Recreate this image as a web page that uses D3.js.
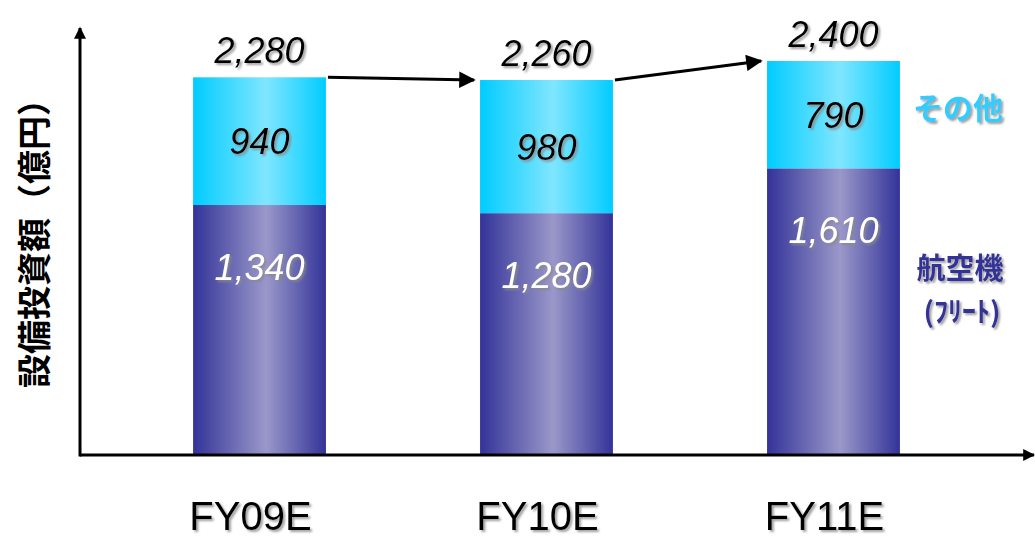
<!DOCTYPE html>
<html>
<head>
<meta charset="utf-8">
<script src="https://cdn.jsdelivr.net/npm/d3@7"></script>
<style>
  body { margin: 0; background: #fff; }
  svg { display: block; }
</style>
</head>
<body>
<div class="canvas"></div>
<script>
// data
const categories = ['FY09E', 'FY10E', 'FY11E'];
const fleet = [1340, 1280, 1610];   // 航空機(フリート)
const other = [940, 980, 790];      // その他
const totals = [2280, 2260, 2400];

const dims = { width: 1035, height: 538 };
const axisX = 80, baseY = 455;
// the original chart's axis floor sits below zero
const yFloor = -500;

const svg = d3.select('.canvas')
    .append('svg')
    .attr('width', dims.width)
    .attr('height', dims.height);

const defs = svg.append('defs');

// horizontal gradients, dark edges / light middle
const grad = (id, edge, mid) => {
    const g = defs.append('linearGradient').attr('id', id)
        .attr('x1', '0%').attr('x2', '100%').attr('y1', '0%').attr('y2', '0%');
    g.append('stop').attr('offset', '0%').attr('stop-color', edge);
    g.append('stop').attr('offset', '55%').attr('stop-color', mid);
    g.append('stop').attr('offset', '100%').attr('stop-color', edge);
};
grad('gFleet', '#333399', '#9a98c9');
grad('gOther', '#00ccff', '#80e6ff');

const shadow = defs.append('filter').attr('id', 'shadow')
    .attr('x', '-10%').attr('y', '-10%').attr('width', '130%').attr('height', '140%');
shadow.append('feDropShadow')
    .attr('dx', 2).attr('dy', 2).attr('stdDeviation', 0.8)
    .attr('flood-color', '#888').attr('flood-opacity', 0.8);

defs.append('marker').attr('id', 'arrow')
    .attr('viewBox', '0 0 10 10').attr('refX', 9).attr('refY', 5)
    .attr('markerWidth', 7).attr('markerHeight', 5.5).attr('orient', 'auto')
    .attr('markerUnits', 'strokeWidth')
    .append('path').attr('d', 'M0,0 L10,5 L0,10 Z').attr('fill', '#000');

defs.append('marker').attr('id', 'axisArrow')
    .attr('viewBox', '0 0 10 10').attr('refX', 9).attr('refY', 5)
    .attr('markerWidth', 5).attr('markerHeight', 4).attr('orient', 'auto')
    .attr('markerUnits', 'strokeWidth')
    .append('path').attr('d', 'M0,0 L10,5 L0,10 Z').attr('fill', '#000');

const x = d3.scaleBand()
    .domain(categories)
    .range([axisX, 1013])
    .paddingInner(0.537)
    .paddingOuter(0.394);

const y = d3.scaleLinear()
    .domain([yFloor, 2400])
    .range([baseY, 61]);

const graph = svg.append('g');

// bars
graph.selectAll('rect.fleet')
    .data(categories)
    .enter().append('rect')
    .attr('class', 'fleet')
    .attr('x', d => x(d))
    .attr('width', x.bandwidth())
    .attr('y', (d, i) => y(fleet[i]))
    .attr('height', (d, i) => y(yFloor) - y(fleet[i]))
    .attr('fill', 'url(#gFleet)');

graph.selectAll('rect.other')
    .data(categories)
    .enter().append('rect')
    .attr('class', 'other')
    .attr('x', d => x(d))
    .attr('width', x.bandwidth())
    .attr('y', (d, i) => y(fleet[i] + other[i]))
    .attr('height', (d, i) => y(fleet[i]) - y(fleet[i] + other[i]))
    .attr('fill', 'url(#gOther)');

// axes with arrows
svg.append('line')
    .attr('x1', axisX).attr('y1', baseY).attr('x2', 1034).attr('y2', baseY)
    .attr('stroke', '#000').attr('stroke-width', 3)
    .attr('marker-end', 'url(#axisArrow)');
svg.append('line')
    .attr('x1', axisX).attr('y1', baseY + 1.5).attr('x2', axisX).attr('y2', 28)
    .attr('stroke', '#000').attr('stroke-width', 3)
    .attr('marker-end', 'url(#axisArrow)');

// arrows between totals
const cx = d => x(d) + x.bandwidth() / 2;
for (let i = 0; i < categories.length - 1; i++) {
    svg.append('line')
        .attr('x1', x(categories[i]) + x.bandwidth() + 2)
        .attr('y1', y(totals[i]))
        .attr('x2', x(categories[i + 1]) - 6)
        .attr('y2', y(totals[i + 1]))
        .attr('stroke', '#000').attr('stroke-width', 3)
        .attr('marker-end', 'url(#arrow)');
}

const fmt = d3.format(',');
const numFont = '"Liberation Sans", Arial, sans-serif';

// totals
svg.selectAll('text.total')
    .data(categories)
    .enter().append('text')
    .attr('x', d => cx(d))
    .attr('y', (d, i) => y(totals[i]) - 14)
    .attr('text-anchor', 'middle')
    .attr('font-family', numFont).attr('font-style', 'italic')
    .attr('font-size', 36).attr('fill', '#000')
    .attr('filter', 'url(#shadow)')
    .text((d, i) => fmt(totals[i]));

// other values
svg.selectAll('text.other')
    .data(categories)
    .enter().append('text')
    .attr('x', d => cx(d))
    .attr('y', (d, i) => (y(fleet[i] + other[i]) + y(fleet[i])) / 2 + 13)
    .attr('text-anchor', 'middle')
    .attr('font-family', numFont).attr('font-style', 'italic')
    .attr('font-size', 36).attr('fill', '#000')
    .attr('filter', 'url(#shadow)')
    .text((d, i) => fmt(other[i]));

// fleet values
svg.selectAll('text.fleet')
    .data(categories)
    .enter().append('text')
    .attr('x', d => cx(d))
    .attr('y', (d, i) => y(fleet[i]) + 75)
    .attr('text-anchor', 'middle')
    .attr('font-family', numFont).attr('font-style', 'italic')
    .attr('font-size', 36).attr('fill', '#fff')
    .attr('filter', 'url(#shadow)')
    .text((d, i) => fmt(fleet[i]));

// category labels
svg.selectAll('text.cat')
    .data(categories)
    .enter().append('text')
    .attr('x', d => cx(d) - 9)
    .attr('y', 530)
    .attr('text-anchor', 'middle')
    .attr('font-family', numFont)
    .attr('font-size', 40).attr('fill', '#000')
    .attr('filter', 'url(#shadow)')
    .text(d => d);

// y title
svg.append('text')
    .attr('transform', 'translate(47, 235) rotate(-90)')
    .attr('text-anchor', 'middle')
    .attr('font-family', '"Noto Sans CJK JP", sans-serif')
    .attr('font-weight', 'bold')
    .attr('font-size', 34).attr('fill', '#000')
    .text('設備投資額（億円）');

// legend
const cjk = '"Noto Sans CJK JP", sans-serif';
svg.append('text')
    .attr('x', 958).attr('y', 119)
    .attr('text-anchor', 'middle')
    .attr('font-family', cjk).attr('font-weight', 'bold')
    .attr('font-size', 30).attr('fill', '#33ccff')
    .attr('filter', 'url(#shadow)')
    .text('その他');
svg.append('text')
    .attr('x', 960).attr('y', 279)
    .attr('text-anchor', 'middle')
    .attr('font-family', cjk).attr('font-weight', 'bold')
    .attr('font-size', 29).attr('fill', '#333399')
    .attr('filter', 'url(#shadow)')
    .text('航空機');
svg.append('text')
    .attr('x', 962).attr('y', 322)
    .attr('text-anchor', 'middle')
    .attr('font-family', cjk).attr('font-weight', 'bold')
    .attr('font-size', 28).attr('fill', '#333399')
    .attr('filter', 'url(#shadow)')
    .text('(ﾌﾘｰﾄ)');
</script>
</body>
</html>
